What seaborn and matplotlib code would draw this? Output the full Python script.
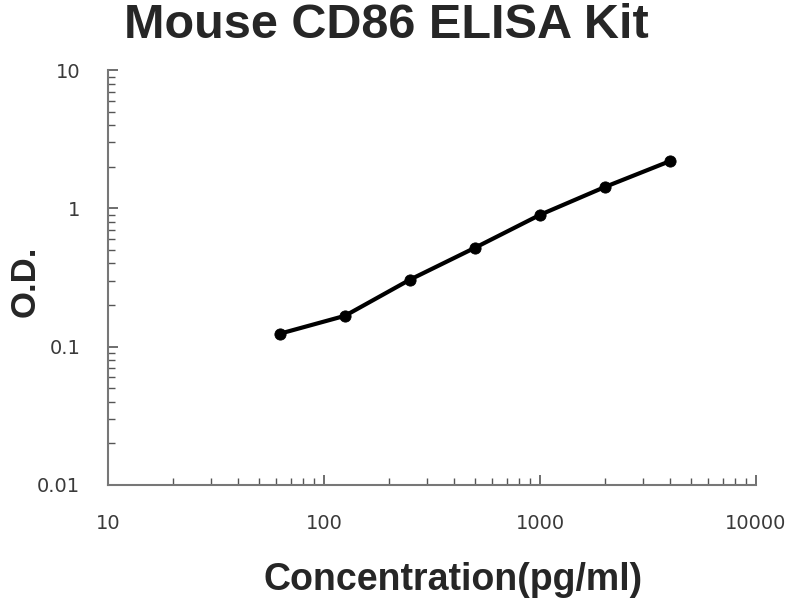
import matplotlib
matplotlib.use('Agg')
import matplotlib.pyplot as plt
import seaborn as sns
import pandas as pd
from matplotlib.ticker import LogLocator, FixedLocator, NullFormatter

# Standard curve values
concentration = [62.5, 125, 250, 500, 1000, 2000, 4000]
od = [0.124, 0.167, 0.305, 0.519, 0.898, 1.43, 2.20]
x_ticks = [10, 100, 1000, 10000]
x_tick_labels = ['10', '100', '1000', '10000']
y_ticks = [0.01, 0.1, 1, 10]
y_tick_labels = ['0.01', '0.1', '1', '10']

df = pd.DataFrame({'conc': concentration, 'od': od})

sns.set_style('white')
plt.rcParams['font.family'] = ['DejaVu Sans']

fig = plt.figure(figsize=(8, 6), dpi=100)
ax = fig.add_axes([0.135, 0.192, 0.81, 0.691])

sns.lineplot(data=df, x='conc', y='od', ax=ax, color='black', linewidth=3)
sns.scatterplot(data=df, x='conc', y='od', ax=ax, color='black', s=65, edgecolor='black', zorder=3)

ax.set_xscale('log')
ax.set_yscale('log')
ax.set_xlim(10, 10000)
ax.set_ylim(0.01, 10)

ax.xaxis.set_major_locator(FixedLocator(x_ticks))
ax.set_xticklabels(x_tick_labels)
ax.yaxis.set_major_locator(FixedLocator(y_ticks))
ax.set_yticklabels(y_tick_labels)
ax.xaxis.set_minor_locator(LogLocator(base=10, subs=range(2, 10)))
ax.yaxis.set_minor_locator(LogLocator(base=10, subs=range(2, 10)))
ax.xaxis.set_minor_formatter(NullFormatter())
ax.yaxis.set_minor_formatter(NullFormatter())

ax.tick_params(axis='both', which='both', direction='in', color='#555555',
               labelcolor='#3a3a3a', labelsize=14, bottom=True, left=True)
ax.tick_params(axis='both', which='major', length=7, width=1.2)
ax.tick_params(axis='x', which='major', pad=21)
ax.tick_params(axis='y', which='major', pad=20)
ax.tick_params(axis='both', which='minor', length=5, width=1.0)

sns.despine(ax=ax)
for side in ['left', 'bottom']:
    ax.spines[side].set_color('#777777')
    ax.spines[side].set_linewidth(1.5)

ax.set_xlabel('Concentration(pg/ml)', fontsize=27, fontweight='bold',
              family='Liberation Sans')
ax.set_ylabel('O.D.', fontsize=25, fontweight='bold', family='Liberation Sans')
ax.xaxis.set_label_coords(0.533, -0.185)
ax.yaxis.set_label_coords(-0.102, 0.49)
fig.text(0.483, 0.957, 'Mouse CD86 ELISA Kit', fontsize=35, fontweight='bold',
         family='Liberation Sans', ha='center', va='center')

fig.savefig('out.png', dpi=100)
